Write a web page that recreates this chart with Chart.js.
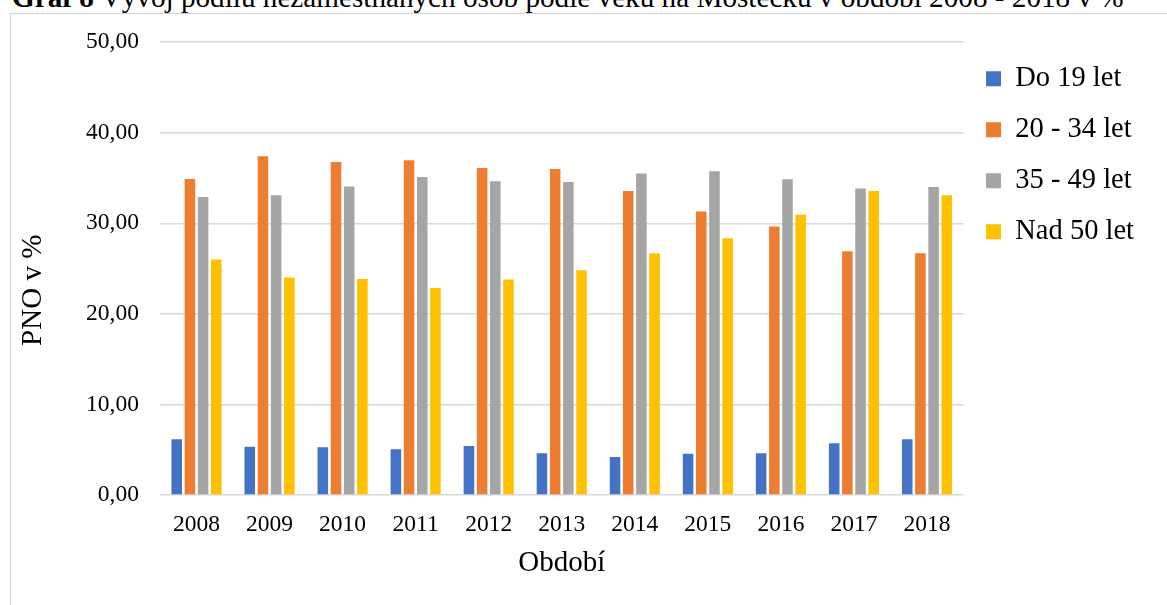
<!DOCTYPE html>
<html>
<head>
<meta charset="utf-8">
<title>Graf 8</title>
<script src="https://cdn.jsdelivr.net/npm/chart.js@4.4.0/dist/chart.umd.min.js"></script>
<style>
  html, body { margin: 0; padding: 0; background: #fff; overflow: hidden; }
  body { width: 1167px; height: 605px; position: relative; font-family: 'Liberation Serif', 'Times New Roman', serif; }
  #title { position: absolute; left: 12px; top: -17.5px; font-size: 29.2px; line-height: 29.2px; white-space: nowrap; color: #000; }
  #frame { position: absolute; left: 10px; top: 13px; width: 1200px; height: 650px; border-left: 1px solid #d4d4d4; border-top: 1px solid #d4d4d4; }
  #wrap { position: absolute; left: 11px; top: 7px; width: 1156px; height: 598px; }
</style>
</head>
<body>
<div id="title"><b>Graf 8</b> Vývoj podílu nezaměstnaných osob podle věku na Mostecku v období 2008 - 2018 v %</div>
<div id="frame"></div>
<div id="wrap"><canvas id="chart"></canvas></div>
<script>
const years = ['2008', '2009', '2010', '2011', '2012', '2013', '2014', '2015', '2016', '2017', '2018']
const do19 = [6.15, 5.33, 5.26, 5.04, 5.4, 4.6, 4.2, 4.56, 4.6, 5.7, 6.15]
const od20do34 = [34.9, 37.4, 36.75, 36.95, 36.1, 36.0, 33.55, 31.3, 29.65, 26.9, 26.7]
const od35do49 = [32.9, 33.1, 34.05, 35.1, 34.65, 34.55, 35.5, 35.75, 34.85, 33.85, 34.0]
const nad50 = [26.0, 24.0, 23.85, 22.85, 23.8, 24.8, 26.7, 28.35, 30.95, 33.55, 33.1]

const serif = "'Liberation Serif', 'Times New Roman', serif"
Chart.defaults.font.family = serif
Chart.defaults.color = '#000'

const czNumber = (v) => v.toFixed(2).replace('.', ',')

const myChart = new Chart(document.getElementById('chart'), {
  type: 'bar',
  data: {
    labels: years,
    datasets: [
      { label: 'Do 19 let', data: do19, backgroundColor: '#4472C4' },
      { label: '20 - 34 let', data: od20do34, backgroundColor: '#ED7D31' },
      { label: '35 - 49 let', data: od35do49, backgroundColor: '#A5A5A5' },
      { label: 'Nad 50 let', data: nad50, backgroundColor: '#FFC000' },
    ],
  },
  options: {
    responsive: true,
    maintainAspectRatio: false,
    animation: false,
    datasets: {
      bar: { categoryPercentage: 0.722, barPercentage: 0.8 },
    },
    layout: {
      padding: { top: 35, right: 23, bottom: 0, left: 0 },
    },
    scales: {
      x: {
        grid: { display: false, drawTicks: false },
        border: { display: false },
        ticks: { padding: 15.4, font: { family: serif, size: 23.5 } },
        title: {
          display: true,
          text: 'Období',
          font: { family: serif, size: 29 },
          padding: { top: -8.4, bottom: 24.6 },
        },
      },
      y: {
        min: 0,
        max: 50,
        grid: { color: '#d9d9d9', lineWidth: 1.5, drawTicks: false },
        border: { display: false },
        ticks: {
          stepSize: 10,
          padding: 21,
          font: { family: serif, size: 23.5 },
          callback: (value) => czNumber(value),
        },
        title: {
          display: true,
          text: 'PNO v %      ',
          font: { family: serif, size: 29 },
          padding: { top: 5.4, bottom: 13.9 },
        },
      },
    },
    plugins: {
      legend: {
        position: 'right',
        align: 'start',
        labels: {
          boxWidth: 15,
          boxHeight: 15,
          padding: 22.5,
          color: '#000',
          font: { family: serif, size: 28.5 },
        },
      },
      tooltip: { enabled: false },
    },
  },
})
</script>
</body>
</html>
